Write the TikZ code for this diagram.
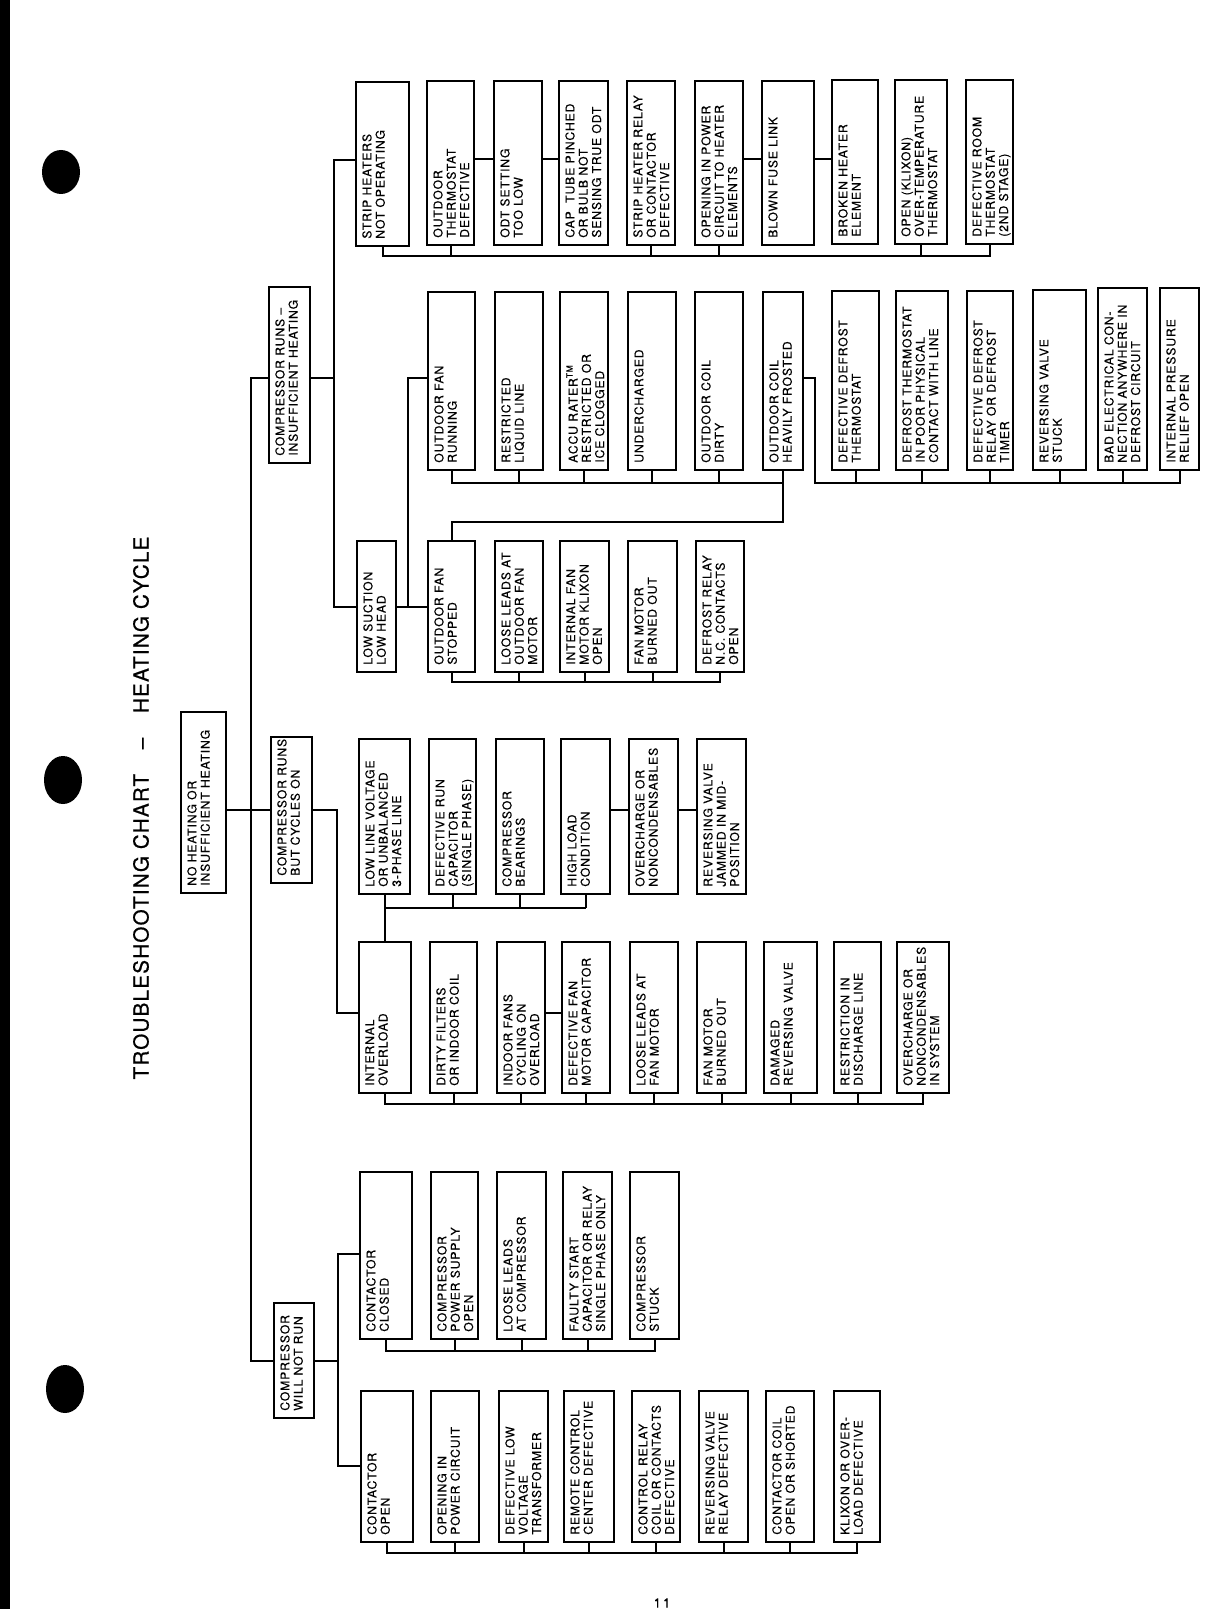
\documentclass[tikz,border=0pt]{standalone}
\usepackage{fontspec}
\newfontfamily\chartfont[LetterSpace=7,FakeBold=0.3]{TeX Gyre Heros}
\newfontfamily\titlefont[LetterSpace=6,FakeBold=0.7]{TeX Gyre Heros}
\usetikzlibrary{fit}
\newcommand\bx[6]{%
  \coordinate (#1-a) at (#2,#3);
  \coordinate (#1-b) at (#4,#5);
  \node[boxn, fit=(#1-a)(#1-b)] (#1) {};
  \node[txt] (#1-t) at ([xshift=3.5pt,yshift=4pt]#1.south west) {#6};}
\begin{document}
\begin{tikzpicture}[x=0.5pt,y=-0.5pt,
  boxn/.style={draw, line width=1.1pt, inner sep=0pt},
  txt/.style={rotate=90, anchor=north west, inner sep=0pt, align=left, font=\fontsize{6.1}{6.65}\chartfont},
  con/.style={line width=1pt}]
\fill[white] (0,0) rectangle (1208,1609);
\useasboundingbox (0,0) rectangle (1208,1609);
% page edge and punch holes
\fill[black] (0,0) rectangle (10,1609);
\fill[black] (61,172) ellipse [x radius=9.5pt, y radius=11pt];
\fill[black] (63,780) ellipse [x radius=9.5pt, y radius=12pt];
\fill[black] (65,1389) ellipse [x radius=9.5pt, y radius=12pt];
% title
\node[rotate=90, inner sep=0pt, font=\fontsize{10.3}{12}\titlefont] (title) at (141,808)
  {TROUBLESHOOTING CHART\hspace{1.2em}–\hspace{1.2em}HEATING CYCLE};
\node[inner sep=0pt, font=\fontsize{6.5}{8}\chartfont] (pnum) at (662,1603) {1\,1};
% level 0 and 1
\bx{nh}{181}{712}{226}{893}{NO HEATING OR\\INSUFFICIENT HEATING}
\bx{cri}{269}{287}{310}{463}{COMPRESSOR RUNS –\\INSUFFICIENT HEATING}
\bx{crc}{271}{737}{312}{883}{COMPRESSOR RUNS\\BUT CYCLES ON}
\bx{cwn}{274}{1303}{314}{1418}{COMPRESSOR\\WILL NOT RUN}
% level 2 under cri
\bx{sh}{356}{82}{409}{246}{STRIP HEATERS\\NOT OPERATING}
\bx{ls}{357}{541}{396}{672}{LOW SUCTION\\LOW HEAD}
% strip heater row
\bx{s1}{427}{81}{474}{245}{OUTDOOR\\THERMOSTAT\\DEFECTIVE}
\bx{s2}{494}{81}{542}{245}{ODT SETTING\\TOO LOW}
\bx{s3}{559}{81}{608}{245}{CAP\ \ TUBE PINCHED\\OR BULB NOT\\SENSING TRUE ODT}
\bx{s4}{627}{81}{675}{245}{STRIP HEATER RELAY\\OR CONTACTOR\\DEFECTIVE}
\bx{s5}{695}{81}{743}{245}{OPENING IN POWER\\CIRCUIT TO HEATER\\ELEMENTS}
\bx{s6}{762}{81}{814}{245}{BLOWN FUSE LINK}
\bx{s7}{832}{80}{878}{244}{BROKEN HEATER\\ELEMENT}
\bx{s8}{895}{80}{947}{244}{OPEN (KLIXON)\\OVER-TEMPERATURE\\THERMOSTAT}
\bx{s9}{966}{80}{1013}{244}{DEFECTIVE ROOM\\THERMOSTAT\\(2ND STAGE)}
% row 2
\bx{r1}{428}{292}{475}{470}{OUTDOOR FAN\\RUNNING}
\bx{r2}{495}{292}{543}{470}{RESTRICTED\\LIQUID LINE}
\bx{r3}{560}{292}{608}{470}{ACCU RATER\textsuperscript{TM}\\RESTRICTED OR\\ICE CLOGGED}
\bx{r4}{628}{292}{676}{470}{UNDERCHARGED}
\bx{r5}{695}{292}{743}{470}{OUTDOOR COIL\\DIRTY}
\bx{r6}{763}{292}{803}{470}{OUTDOOR COIL\\HEAVILY FROSTED}
% defrost row
\bx{d1}{832}{291}{879}{470}{DEFECTIVE DEFROST\\THERMOSTAT}
\bx{d2}{896}{291}{948}{470}{DEFROST THERMOSTAT\\IN POOR PHYSICAL\\CONTACT WITH LINE}
\bx{d3}{967}{291}{1013}{470}{DEFECTIVE DEFROST\\RELAY OR DEFROST\\TIMER}
\bx{d4}{1033}{290}{1086}{470}{REVERSING VALVE\\STUCK}
\bx{d5}{1098}{288}{1147}{470}{BAD ELECTRICAL CON-\\NECTION ANYWHERE IN\\DEFROST CIRCUIT}
\bx{d6}{1160}{288}{1199}{470}{INTERNAL PRESSURE\\RELIEF OPEN}
% fan stopped row
\bx{f1}{428}{541}{475}{672}{OUTDOOR FAN\\STOPPED}
\bx{f2}{495}{541}{543}{672}{LOOSE LEADS AT\\OUTDOOR FAN\\MOTOR}
\bx{f3}{560}{541}{609}{672}{INTERNAL FAN\\MOTOR KLIXON\\OPEN}
\bx{f4}{628}{541}{677}{672}{FAN MOTOR\\BURNED OUT}
\bx{f5}{696}{541}{744}{672}{DEFROST RELAY\\N.C. CONTACTS\\OPEN}
% cycles-on upper row
\bx{c1}{359}{739}{410}{894}{LOW LINE VOLTAGE\\OR UNBALANCED\\3-PHASE LINE}
\bx{c2}{429}{739}{476}{894}{DEFECTIVE RUN\\CAPACITOR\\(SINGLE PHASE)}
\bx{c3}{496}{739}{544}{894}{COMPRESSOR\\BEARINGS}
\bx{c4}{561}{739}{610}{894}{HIGH LOAD\\CONDITION}
\bx{c5}{629}{739}{678}{894}{OVERCHARGE OR\\NONCONDENSABLES}
\bx{c6}{697}{739}{746}{894}{REVERSING VALVE\\JAMMED IN MID-\\POSITION}
% cycles-on lower row
\bx{i1}{359}{942}{411}{1093}{INTERNAL\\OVERLOAD}
\bx{i2}{430}{942}{477}{1093}{DIRTY FILTERS\\OR INDOOR COIL}
\bx{i3}{497}{942}{545}{1093}{INDOOR FANS\\CYCLING ON\\OVERLOAD}
\bx{i4}{562}{942}{610}{1093}{DEFECTIVE FAN\\MOTOR CAPACITOR}
\bx{i5}{630}{942}{678}{1093}{LOOSE LEADS AT\\FAN MOTOR}
\bx{i6}{697}{942}{746}{1093}{FAN MOTOR\\BURNED OUT}
\bx{i7}{764}{942}{817}{1093}{DAMAGED\\REVERSING VALVE}
\bx{i8}{834}{942}{881}{1093}{RESTRICTION IN\\DISCHARGE LINE}
\bx{i9}{897}{942}{949}{1093}{OVERCHARGE OR\\NONCONDENSABLES\\IN SYSTEM}
% will not run upper row
\bx{w1}{360}{1172}{412}{1339}{CONTACTOR\\CLOSED}
\bx{w2}{431}{1172}{478}{1339}{COMPRESSOR\\POWER SUPPLY\\OPEN}
\bx{w3}{497}{1172}{546}{1339}{LOOSE LEADS\\AT COMPRESSOR}
\bx{w4}{563}{1172}{612}{1339}{FAULTY START\\CAPACITOR OR RELAY\\SINGLE PHASE ONLY}
\bx{w5}{630}{1172}{679}{1339}{COMPRESSOR\\STUCK}
% will not run lower row
\bx{b1}{361}{1391}{413}{1542}{CONTACTOR\\OPEN}
\bx{b2}{431}{1391}{479}{1542}{OPENING IN\\POWER CIRCUIT}
\bx{b3}{499}{1391}{548}{1542}{DEFECTIVE LOW\\VOLTAGE\\TRANSFORMER}
\bx{b4}{564}{1391}{614}{1542}{REMOTE CONTROL\\CENTER DEFECTIVE}
\bx{b5}{632}{1391}{680}{1542}{CONTROL RELAY\\COIL OR CONTACTS\\DEFECTIVE}
\bx{b6}{699}{1391}{748}{1542}{REVERSING VALVE\\RELAY DEFECTIVE}
\bx{b7}{766}{1391}{814}{1542}{CONTACTOR COIL\\OPEN OR SHORTED}
\bx{b8}{834}{1391}{880}{1542}{KLIXON OR OVER-\\LOAD DEFECTIVE}
% helper coordinates
\coordinate (T) at (251,0);
\coordinate (V1) at (334,0);
\coordinate (V2) at (408,0);
\coordinate (V3) at (815,0);
\coordinate (V4) at (337,0);
\coordinate (V5) at (338,0);
\coordinate (yA) at (0,378);
\coordinate (y160) at (0,160);
\coordinate (y159) at (0,159);
\coordinate (y810) at (0,810);
\coordinate (y1013) at (0,1013);
\coordinate (y1254) at (0,1254);
\coordinate (y1466) at (0,1466);
\coordinate (B1) at (0,256);
\coordinate (B2) at (0,483);
\coordinate (B3) at (0,522);
\coordinate (B4) at (0,682);
\coordinate (B5) at (0,908);
\coordinate (B6) at (0,1104);
\coordinate (B7) at (0,1351);
\coordinate (B8) at (0,1553);
% trunk
\draw[con] (cri.west |- yA) -| (T |- cwn.west) -- (cwn.west);
\draw[con] (nh.east |- y810) -- (crc.west |- y810);
% compressor runs - insufficient heating
\draw[con] (cri.east |- yA) -- (V1 |- yA);
\draw[con] (sh.west |- y160) -| (V1 |- ls.west) -- (ls.west);
\draw[con] (ls.east) -- (f1.west);
\draw[con] (V2 |- ls.east) |- (r1.west |- yA);
% strip heaters
\draw[con] (sh.south) |- (s9.south |- B1) -- (s9.south);
\foreach \n in {s1,s4,s5,s8} \draw[con] (\n.south) -- (\n.south |- B1);
\draw[con] (s1.east |- y159) -- (s2.west |- y159);
\draw[con] (s2.east |- y159) -- (s3.west |- y159);
\draw[con] (s5.east |- y159) -- (s6.west |- y159);
\draw[con] (s6.east |- y159) -- (s7.west |- y159);
% outdoor fan running group
\draw[con] (r1.south) |- (r6.south |- B2);
\foreach \n in {r2,r3,r4,r5} \draw[con] (\n.south) -- (\n.south |- B2);
\draw[con] (r6.south) -- (r6.south |- B3) -| (f1.north);
\draw[con] (r6.east |- yA) -| (V3 |- B2) -- (d6.south |- B2) -- (d6.south);
\foreach \n in {d1,d2,d3,d4,d5} \draw[con] (\n.south) -- (\n.south |- B2);
% fan stopped group
\draw[con] (f1.south) |- (f5.south |- B4) -- (f5.south);
\foreach \n in {f2,f3,f4} \draw[con] (\n.south) -- (\n.south |- B4);
% compressor runs but cycles on
\draw[con] (crc.east |- y810) -| (V4 |- y1013) -- (i1.west |- y1013);
\draw[con] (c1.south) -- (c1.south |- i1.north);
\draw[con] (c1.south |- B5) -- (c4.south |- B5);
\foreach \n in {c2,c3,c4} \draw[con] (\n.south) -- (\n.south |- B5);
\draw[con] (c4.east |- y810) -- (c5.west |- y810);
\draw[con] (c5.east |- y810) -- (c6.west |- y810);
\draw[con] (i1.south) |- (i9.south |- B6) -- (i9.south);
\foreach \n in {i2,i3,i4,i5,i6,i7,i8} \draw[con] (\n.south) -- (\n.south |- B6);
\draw[con] (i3.east |- y1013) -- (i4.west |- y1013);
% compressor will not run
\draw[con] (cwn.east) -- (V5 |- cwn.east);
\draw[con] (w1.west |- y1254) -| (V5 |- y1466) -- (b1.west |- y1466);
\draw[con] (w1.south) |- (w5.south |- B7) -- (w5.south);
\foreach \n in {w2,w3,w4} \draw[con] (\n.south) -- (\n.south |- B7);
\draw[con] (b1.south) |- (b8.south |- B8) -- (b8.south);
\foreach \n in {b2,b3,b4,b5,b6,b7} \draw[con] (\n.south) -- (\n.south |- B8);
\end{tikzpicture}
\end{document}
